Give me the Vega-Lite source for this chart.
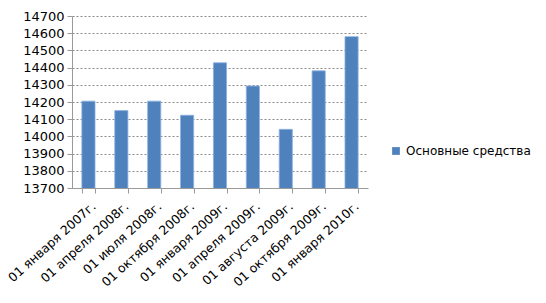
{
  "$schema": "https://vega.github.io/schema/vega-lite/v6.json",
  "autosize": {"type": "none"},
  "width": 296,
  "height": 172,
  "padding": {"left": 72, "top": 16, "right": 178, "bottom": 115},
  "background": "white",
  "data": {"values": [
    {"date": "01 января 2007г.", "value": 14205, "series": "Основные средства"},
    {"date": "01 апреля 2008г.", "value": 14150, "series": "Основные средства"},
    {"date": "01  июля 2008г.", "value": 14205, "series": "Основные средства"},
    {"date": "01 октября 2008г.", "value": 14123, "series": "Основные средства"},
    {"date": "01 января 2009г.", "value": 14428, "series": "Основные средства"},
    {"date": "01 апреля 2009г.", "value": 14293, "series": "Основные средства"},
    {"date": "01 августа 2009г.", "value": 14041, "series": "Основные средства"},
    {"date": "01 октября 2009г.", "value": 14381, "series": "Основные средства"},
    {"date": "01 января 2010г.", "value": 14580, "series": "Основные средства"}
  ]},
  "mark": {"type": "bar", "stroke": "#8db3e2", "strokeWidth": 0.8, "clip": true},
  "encoding": {
    "x": {
      "field": "date", "type": "nominal", "sort": null,
      "scale": {"paddingInner": 0.6, "paddingOuter": 0.3},
      "axis": {
        "title": null, "labelAngle": -42, "labelAlign": "right", "labelBaseline": "middle",
        "labelFont": "DejaVu Sans", "labelFontSize": 12.5, "labelColor": "#000",
        "labelOverlap": false, "labelLimit": 200,
        "tickBand": "extent", "tickColor": "#9a9a9a", "tickSize": 5,
        "domainColor": "#9a9a9a", "labelPadding": 11, "labelOffset": 5, "grid": false
      }
    },
    "y": {
      "field": "value", "type": "quantitative",
      "scale": {"domain": [13700, 14700], "zero": false, "nice": false},
      "axis": {
        "title": null, "format": "d", "labelOverlap": false,
        "values": [13700,13800,13900,14000,14100,14200,14300,14400,14500,14600,14700],
        "labelFont": "DejaVu Sans", "labelFontSize": 13, "labelColor": "#000",
        "gridColor": "#8a8a8a", "gridDash": [2, 2], "gridWidth": 1,
        "domainColor": "#9a9a9a", "tickColor": "#9a9a9a", "tickSize": 5, "labelPadding": 3
      }
    },
    "color": {
      "field": "series", "type": "nominal",
      "scale": {"range": ["#4F81BD"]},
      "legend": {
        "title": null, "orient": "none", "legendX": 318, "legendY": 129,
        "symbolType": "square", "symbolSize": 60, "symbolStrokeWidth": 0,
        "labelFont": "DejaVu Sans", "labelFontSize": 12, "labelColor": "#000", "labelOffset": 4
      }
    }
  },
  "config": {"view": {"stroke": null}}
}
